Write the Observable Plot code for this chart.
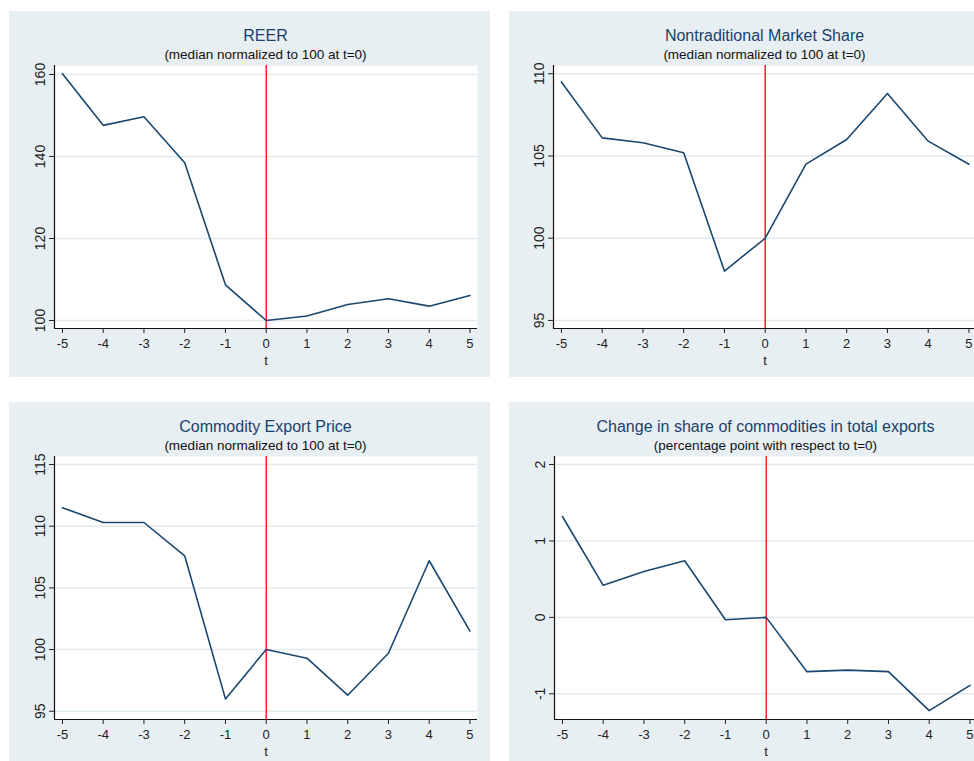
<!DOCTYPE html>
<html>
<head>
<meta charset="utf-8">
<script src="https://cdn.jsdelivr.net/npm/d3@7"></script>
<script src="https://cdn.jsdelivr.net/npm/@observablehq/plot@0.6"></script>
<style>
  html, body { margin: 0; padding: 0; background: #ffffff; overflow: hidden; }
  body { font-family: "Liberation Sans", Arial, Helvetica, sans-serif; }
  #page { position: relative; width: 974px; height: 761px; overflow: hidden; }
  .panel { position: absolute; background: #e8eff2; overflow: hidden; }
  .title { position: absolute; text-align: center; font-size: 16px; line-height: 16px; color: #1b3f6d; white-space: nowrap; }
  .subtitle { position: absolute; text-align: center; font-size: 13.5px; line-height: 13.5px; color: #111111; white-space: nowrap; }
  .panel svg { position: absolute; left: 0; top: 50px; max-width: none !important; }
</style>
</head>
<body>
<div id="page"></div>
<script>
// Event time around t = 0
const t = [-5, -4, -3, -2, -1, 0, 1, 2, 3, 4, 5];

// Median paths (index = 100 at t = 0, except the share change in pp)
const reer = [160.2, 147.6, 149.7, 138.5, 108.7, 100, 101.1, 103.9, 105.3, 103.5, 106.1];
const marketShare = [109.5, 106.1, 105.8, 105.2, 98.0, 100, 104.5, 106.0, 108.8, 105.9, 104.5];
const commodityPrice = [111.5, 110.3, 110.3, 107.6, 96.0, 100, 99.3, 96.3, 99.7, 107.2, 101.5];
const commodityShareChange = [1.32, 0.42, 0.60, 0.74, -0.03, 0, -0.71, -0.69, -0.71, -1.22, -0.89];

// Axis ticks
const tTicks = [-5, -4, -3, -2, -1, 0, 1, 2, 3, 4, 5];
const reerTicks = [100, 120, 140, 160];
const marketShareTicks = [95, 100, 105, 110];
const commodityPriceTicks = [95, 100, 105, 110, 115];
const shareChangeTicks = [-1, 0, 1, 2];

// Titles
const titles = ["REER", "Nontraditional Market Share", "Commodity Export Price", "Change in share of commodities in total exports"];
const subtitles = [
  "(median normalized to 100 at t=0)",
  "(median normalized to 100 at t=0)",
  "(median normalized to 100 at t=0)",
  "(percentage point with respect to t=0)"
];

const xDomain = [-5.195, 5.185];

const panels = [
  {values: reer, ticks: reerTicks, yDomain: [98.05, 162.2],
   box: {left: 9, top: 11, width: 481, height: 366}, marginLeft: 45, svgWidth: 481, marginBottom: 49},
  {values: marketShare, ticks: marketShareTicks, yDomain: [94.51, 110.5],
   box: {left: 509, top: 11, width: 465, height: 366}, marginLeft: 44, svgWidth: 480, marginBottom: 49},
  {values: commodityPrice, ticks: commodityPriceTicks, yDomain: [94.33, 115.65],
   box: {left: 9, top: 402, width: 481, height: 359}, marginLeft: 45, svgWidth: 481, marginBottom: 42},
  {values: commodityShareChange, ticks: shareChangeTicks, yDomain: [-1.336, 2.105],
   box: {left: 509, top: 402, width: 465, height: 359}, marginLeft: 45, svgWidth: 481, marginBottom: 42}
];

const page = document.getElementById("page");
const plotWidth = 423;
const marginTop = 4;
const svgTop = 50;

panels.forEach((p, i) => {
  const div = document.createElement("div");
  div.className = "panel";
  Object.assign(div.style, {
    left: p.box.left + "px", top: p.box.top + "px",
    width: p.box.width + "px", height: p.box.height + "px"
  });

  const title = document.createElement("div");
  title.className = "title";
  title.textContent = titles[i];
  Object.assign(title.style, {left: p.marginLeft + "px", width: plotWidth + "px", top: "16.5px"});

  const subtitle = document.createElement("div");
  subtitle.className = "subtitle";
  subtitle.textContent = subtitles[i];
  Object.assign(subtitle.style, {left: p.marginLeft + "px", width: plotWidth + "px", top: "36.5px"});

  const rows = t.map((d, k) => ({t: d, v: p.values[k]}));
  const svgHeight = p.box.height - svgTop;

  const chart = Plot.plot({
    width: p.svgWidth,
    height: svgHeight,
    marginLeft: p.marginLeft,
    marginRight: p.svgWidth - p.marginLeft - plotWidth,
    marginTop,
    marginBottom: p.marginBottom,
    style: {
      fontFamily: '"Liberation Sans", Arial, Helvetica, sans-serif',
      fontSize: "13px",
      color: "#222222",
      background: "transparent",
      overflow: "visible",
      maxWidth: "none"
    },
    x: {domain: xDomain},
    y: {domain: p.yDomain},
    marks: [
      Plot.frame({fill: "white", stroke: "none"}),
      Plot.gridY(p.ticks, {stroke: "#e0e9ee", strokeOpacity: 1, strokeWidth: 1.5}),
      Plot.ruleX([0], {stroke: "#ff0000", strokeWidth: 1.3}),
      Plot.line(rows, {x: "t", y: "v", stroke: "#1a476f", strokeWidth: 1.6}),
      Plot.ruleY([p.yDomain[0]], {stroke: "#111111", strokeWidth: 1.2}),
      Plot.ruleX([xDomain[0]], {stroke: "#111111", strokeWidth: 1.2}),
      Plot.axisY(p.ticks, {
        tickSize: 5, tickPadding: 5, tickRotate: -90, fontSize: 14,
        tickFormat: d => String(d), label: null, stroke: "#222222"
      }),
      Plot.axisX(tTicks, {
        tickSize: 5, tickPadding: 5, fontSize: 13,
        tickFormat: d => String(d), stroke: "#222222",
        label: "t", labelAnchor: "center", labelArrow: "none", labelOffset: 36
      })
    ]
  });

  div.appendChild(title);
  div.appendChild(subtitle);
  div.appendChild(chart);
  page.appendChild(div);
});
</script>
</body>
</html>
